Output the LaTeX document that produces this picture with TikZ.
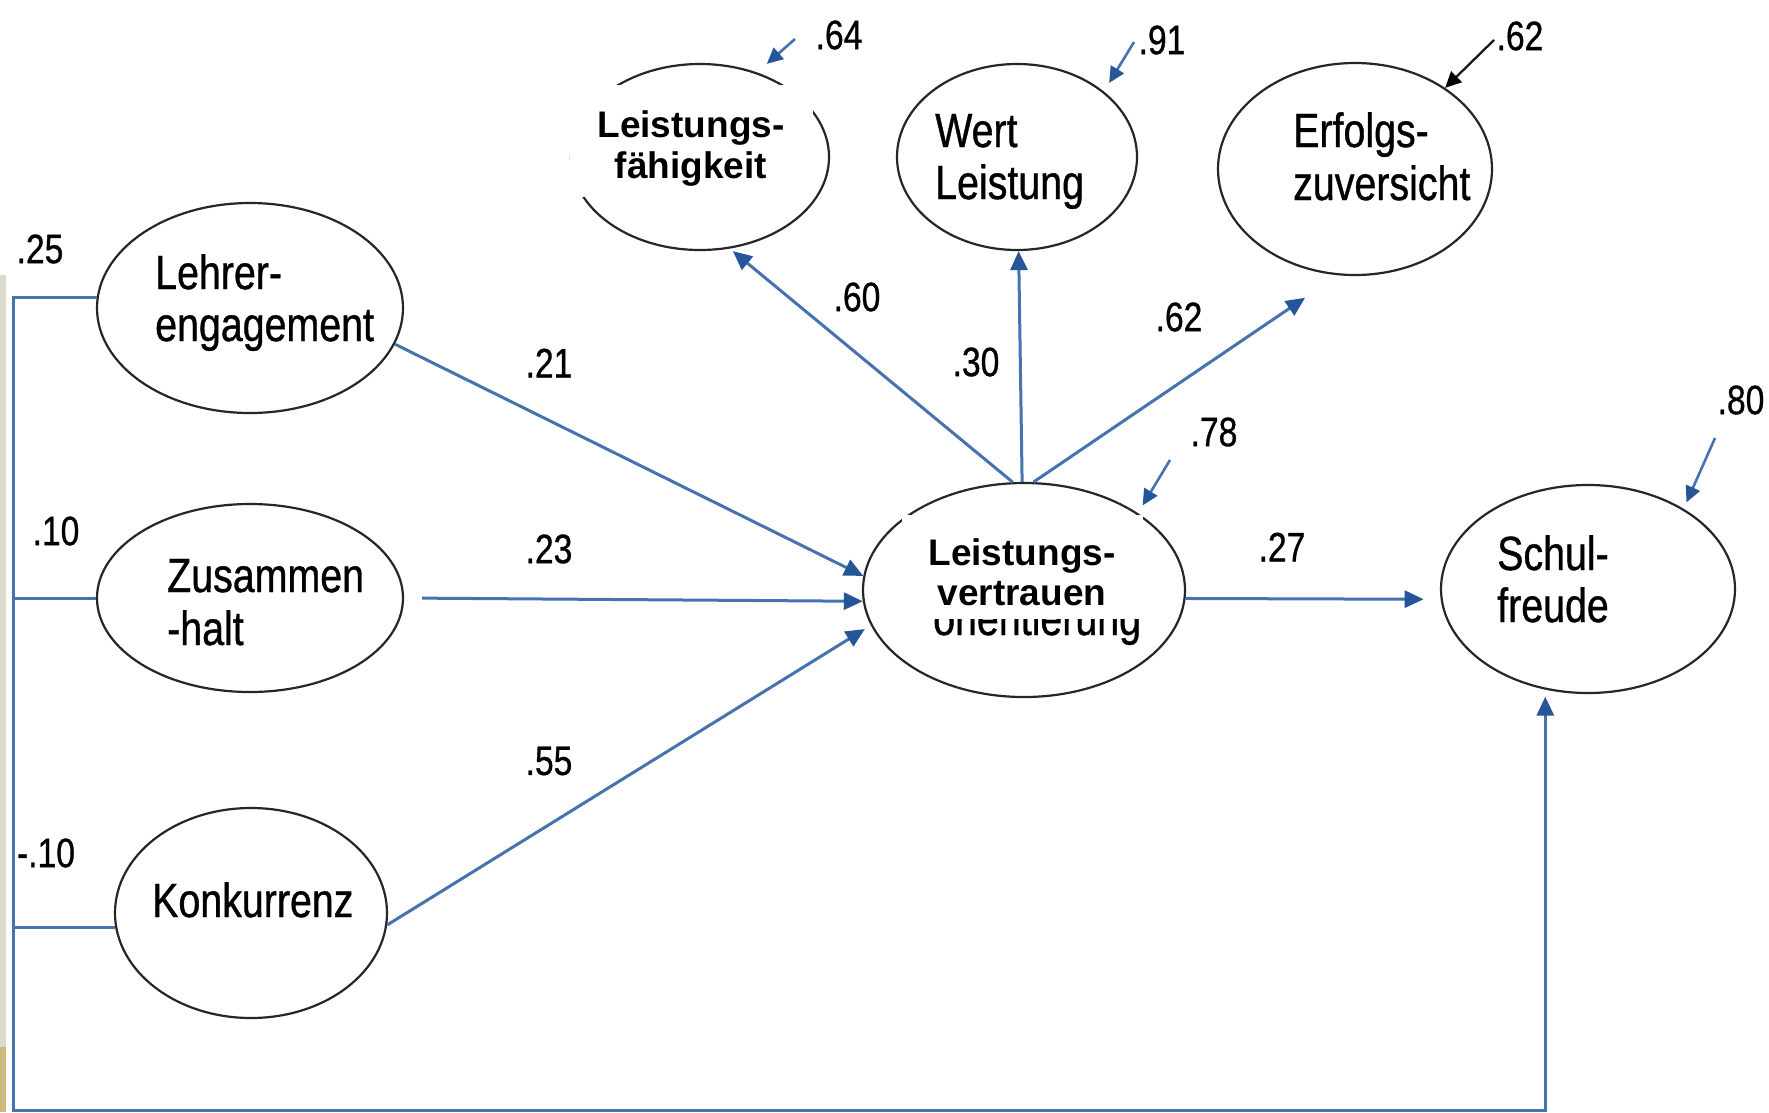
\documentclass[tikz,border=0pt]{standalone}
\usepackage{graphicx}
\usepackage{fontspec}
\setmainfont{Liberation Sans}
\newfontfamily\heavyfont[FakeBold=0.9]{Liberation Sans}
\usetikzlibrary{arrows.meta,shapes.geometric,calc}
\definecolor{lineblue}{RGB}{70,114,176}
\definecolor{tipblue}{RGB}{38,86,154}
\definecolor{stripgray}{RGB}{222,219,202}
\definecolor{striptan}{RGB}{205,186,125}
\newcommand\nr[1]{\scalebox{0.82}[1]{#1}}
\begin{document}
\begin{tikzpicture}[x=1pt,y=-1pt,
  latent/.style={draw=black!85, line width=2.2pt, ellipse, inner sep=0pt, fill=white},
  conn/.style={draw=lineblue, line width=3pt},
  arr/.style={conn, -{Triangle[length=19pt,width=17pt,color=tipblue]}},
  errarr/.style={conn, line width=2.6pt, -{Triangle[length=16pt,width=15pt,color=tipblue]}},
  errblk/.style={draw=black!90, line width=2.3pt, -{Triangle[length=16pt,width=15pt,color=black]}},
  lbl/.style={inner sep=0pt, font=\heavyfont\fontsize{48}{52}\selectfont, anchor=base west},
  boldtxt/.style={inner sep=0pt, font=\fontsize{37}{41}\selectfont\bfseries, anchor=base},
  num/.style={inner sep=0pt, font=\heavyfont\fontsize{41}{45}\selectfont},
]
\useasboundingbox (0,0) rectangle (1769,1112);
\fill[white] (0,0) rectangle (1769,1112);
\fill[stripgray] (0,275) rectangle (6,1047);
\fill[striptan] (0,1047) rectangle (6,1112);

% latent variables
\node[latent, minimum width=306pt, minimum height=210pt] (leh) at (250,308) {};
\node[latent, minimum width=306pt, minimum height=188pt] (zus) at (250,598) {};
\node[latent, minimum width=272pt, minimum height=210pt] (kon) at (251,913) {};
\node[latent, minimum width=258pt, minimum height=186pt] (lf) at (700,157) {};
\node[latent, minimum width=240pt, minimum height=186pt] (wert) at (1017,157) {};
\node[latent, minimum width=274pt, minimum height=212pt] (erf) at (1355,169) {};
\node[latent, minimum width=322pt, minimum height=214pt] (lv) at (1024,590) {};
\node[latent, minimum width=294pt, minimum height=208pt] (sch) at (1588,589) {};

% texts
\node[lbl] (t1a) at (155,289) {\nr{Lehrer-}};
\node[lbl] (t1b) at (155,341) {\nr{engagement}};
\node[lbl] (t2a) at (167,592) {\nr{Zusammen}};
\node[lbl] (t2b) at (167,645) {\nr{-halt}};
\node[lbl] (t3a) at (152,917) {\nr{Konkurrenz}};
\node[lbl] (t4a) at (935,147) {\nr{Wert}};
\node[lbl] (t4b) at (935,199) {\nr{Leistung}};
\node[lbl] (t5a) at (1293,147) {\nr{Erfolgs-}};
\node[lbl] (t5b) at (1293,200) {\nr{zuversicht}};
\node[lbl] (t6a) at (1497,570) {\nr{Schul-}};
\node[lbl] (t6b) at (1497,622) {\nr{freude}};
\node[lbl] (t7old) at (933,635) {\nr{orientierung}};

% pasted-over labels
\fill[white] (570,85) rectangle (813,197);
\node[boldtxt] (lfa) at (691,137) {Leistungs-};
\node[boldtxt] (lfb) at (691,178) {fähigkeit};
\fill[white] (902,515) rectangle (1143,619);
\node[boldtxt] (lva) at (1022,565) {Leistungs-};
\node[boldtxt] (lvb) at (1022,605) {vertrauen};

% paths
\draw[arr] (leh.-14) -- (lv.175);
\draw[arr, shorten <=18pt] (zus.east) -- (lv.184);
\draw[arr, shorten >=7pt] (kon.-5) -- (lv.193);
\draw[arr, shorten >=4pt] (lv.96) -- (lf.-72);
\draw[arr] (lv.91) -- (wert.-89);
\draw[arr, shorten >=40pt] (lv.85) -- (erf.261);
\draw[arr, shorten >=17pt] (lv.-3) -- (sch.184);

% left bracket to Schulfreude
\coordinate (bl) at (13,1110);
\draw[arr, shorten >=7pt] (leh.176) -| (bl) -| (sch.247);
\draw[conn] (zus.180) -- (zus.180 -| bl);
\draw[conn] (kon.186) -- (kon.186 -| bl);

% error terms
\coordinate (e64) at (795,39);
\draw[errarr, shorten >=13pt] (e64) -- (lf.56);
\coordinate (e91) at (1134,42);
\draw[errarr, shorten >=10pt] (e91) -- (wert.37);
\coordinate (e62) at (1494,40);
\draw[errblk] (e62) -- (erf.42);
\coordinate (e78) at (1170,460);
\draw[errarr, shorten >=9pt] (e78) -- (lv.34);
\coordinate (e80) at (1715,438);
\draw[errarr, shorten >=7pt] (e80) -- (sch.40);

% coefficients
\node[num] (n25) at (40,249) {\nr{.25}};
\node[num] (n10) at (56,531) {\nr{.10}};
\node[num] (nm10) at (46,853) {\nr{-.10}};
\node[num] (n21) at (549,363) {\nr{.21}};
\node[num] (n23) at (549,549) {\nr{.23}};
\node[num] (n55) at (549,761) {\nr{.55}};
\node[num] (n60) at (857,297) {\nr{.60}};
\node[num] (n30) at (976,362) {\nr{.30}};
\node[num] (n62m) at (1179,317) {\nr{.62}};
\node[num] (n78) at (1214,432) {\nr{.78}};
\node[num] (n27) at (1282,547) {\nr{.27}};
\node[num] (n64) at (839,35) {\nr{.64}};
\node[num] (n91) at (1162,40) {\nr{.91}};
\node[num] (n62t) at (1520,36) {\nr{.62}};
\node[num] (n80) at (1741,400) {\nr{.80}};
\end{tikzpicture}
\end{document}
